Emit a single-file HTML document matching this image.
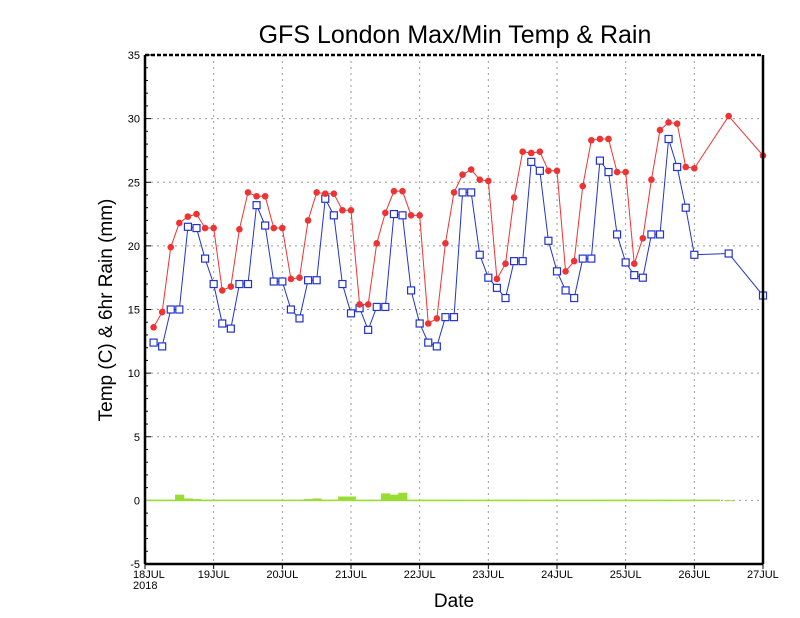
<!DOCTYPE html>
<html><head><meta charset="utf-8"><style>
body{margin:0;background:#fff}
svg{display:block}
text{font-family:"Liberation Sans",sans-serif}
</style></head><body>
<svg id="chart" width="800" height="618" xmlns="http://www.w3.org/2000/svg">
<rect width="800" height="618" fill="#fff"/>
<text x="455" y="43" font-size="25" text-anchor="middle">GFS London Max/Min Temp &amp; Rain</text>
<text x="454" y="607" font-size="19" text-anchor="middle">Date</text>
<text transform="translate(112,310) rotate(-90)" font-size="19" text-anchor="middle">Temp (C) &amp; 6hr Rain (mm)</text>
<g id="grid"></g><g id="axes"></g><g id="rain"></g><g id="minS"></g><g id="maxS"></g><g id="frame"></g>
</svg>
<script>
const yTicks=[-5,0,5,10,15,20,25,30,35];
const dayLabels=["18JUL","19JUL","20JUL","21JUL","22JUL","23JUL","24JUL","25JUL","26JUL","27JUL"];
const maxTemps=[13.6,14.8,19.9,21.8,22.3,22.5,21.4,21.4,16.5,16.8,21.3,24.2,23.9,23.9,21.4,21.4,17.4,17.5,22.0,24.2,24.1,24.1,22.8,22.8,15.4,15.4,20.2,22.6,24.3,24.3,22.4,22.4,13.9,14.3,20.2,24.2,25.6,26.0,25.2,25.1,17.4,18.6,23.8,27.4,27.3,27.4,25.9,25.9,18.0,18.8,24.7,28.3,28.4,28.4,25.8,25.8,18.6,20.6,25.2,29.1,29.7,29.6,26.2,26.1,30.2,27.1];
const minTemps=[12.4,12.1,15.0,15.0,21.5,21.4,19.0,17.0,13.9,13.5,17.0,17.0,23.2,21.6,17.2,17.2,15.0,14.3,17.3,17.3,23.7,22.4,17.0,14.7,15.1,13.4,15.2,15.2,22.5,22.4,16.5,13.9,12.4,12.1,14.4,14.4,24.2,24.2,19.3,17.5,16.7,15.9,18.8,18.8,26.6,25.9,20.4,18.0,16.5,15.9,19.0,19.0,26.7,25.8,20.9,18.7,17.7,17.5,20.9,20.9,28.4,26.2,23.0,19.3,19.4,16.1];
const rain=[0.02,0.02,0.02,0.45,0.15,0.1,0.02,0.02,0,0,0,0,0,0,0,0,0,0,0.1,0.15,0.02,0.05,0.3,0.3,0.02,0.02,0.02,0.55,0.45,0.6,0.02,0.02,0.02,0.02,0.02,0.02,0.02,0.02,0.02,0.02,0.02,0.02,0.02,0.02,0.02,0.02,0.02,0.02,0.02,0.02,0.02,0.02,0.02,0.02,0.02,0.02,0.02,0.02,0.02,0.02,0.02,0.02,0.02,0.02,0.02,0];
// hours since 18JUL 00Z
const hours=[];for(let i=0;i<64;i++)hours.push(3+3*i);hours.push(204,216);
const X0=145,X1=763,Y0=564,Y1=55;
const x=h=>X0+(X1-X0)*h/216;
const y=v=>Y0-(Y0-Y1)*(v+5)/40;
const NS="http://www.w3.org/2000/svg";
function mk(p,tag,at){const e=document.createElementNS(NS,tag);for(const k in at)e.setAttribute(k,at[k]);p.appendChild(e);return e;}
const grid=document.getElementById('grid'),axes=document.getElementById('axes');
yTicks.forEach(t=>{
 const l=mk(grid,'line',{x1:X0,x2:X1,y1:y(t),y2:y(t),stroke:'#999','stroke-dasharray':'2,4'});
 
 
 const tx=mk(axes,'text',{x:X0-5,y:y(t)+4,'font-size':11,'text-anchor':'end'});tx.textContent=t;
 
 
});
for(let v=-5;v<=35;v++){const m=mk(axes,'line',{x1:X0,x2:X0+(v%5?3:6),y1:y(v),y2:y(v),stroke:'#000'});
 
 }
dayLabels.forEach((d,i)=>{
 const xx=x(24*i);
 if(i>0&&i<9){const l=mk(grid,'line',{x1:xx,x2:xx,y1:Y1,y2:Y0,stroke:'#999','stroke-dasharray':'2,4'});
 
 }
 const t=mk(axes,'line',{x1:xx,x2:xx,y1:Y0,y2:Y0+5,stroke:'#000'});
 
 
 const tx=mk(axes,'text',{x:i==0?xx-12:(i==9?xx-16:xx),y:Y0+14,'font-size':11,'text-anchor':i==0||i==9?'start':'middle'});tx.textContent=d;
 
 
});
const yr=mk(axes,'text',{x:X0-12,y:Y0+25,'font-size':11});yr.textContent="2018";


// rain
const rg=document.getElementById('rain');
const zl=mk(rg,'line',{x1:X0,x2:x(201),y1:y(0),y2:y(0),stroke:'#99dd33','stroke-width':1.5});


rain.forEach((r,i)=>{if(r<=0)return;const h=hours[i];
 const b=mk(rg,'rect',{x:x(h-1.5),y:y(r),width:x(h+1.5)-x(h-1.5)+0.6,height:Math.max(1,y(0)-y(r)),fill:'#99dd33'});
 
 });
function series(gid,vals,color,marker,nm){
 const g=document.getElementById(gid);
 const pl=mk(g,'polyline',{points:vals.map((v,i)=>x(hours[i])+','+y(v)).join(' '),fill:'none',stroke:color,'stroke-width':1});
 
 
 vals.forEach((v,i)=>{let m;
  if(marker=='c')m=mk(g,'circle',{cx:x(hours[i]),cy:y(v),r:3.3,fill:color});
  else m=mk(g,'rect',{x:x(hours[i])-3.5,y:y(v)-3.5,width:7,height:7,fill:'#fff',stroke:color,'stroke-width':1.2});
  
  });
}
series('minS',minTemps,'#2233cc','s','min-temp');
series('maxS',maxTemps,'#ee3333','c','max-temp');
const fr=document.getElementById('frame');
[[X0,Y0,X1,Y0,''],[X0,Y1,X0,Y0,''],[X1,Y1,X1,Y0,''],[X0,Y1,X1,Y1,'4,2']].forEach(a=>{
 const l=mk(fr,'line',{x1:a[0],y1:a[1],x2:a[2],y2:a[3],stroke:'#000','stroke-width':2.5,'stroke-dasharray':a[4]});
 
 });
</script>
</body></html>
